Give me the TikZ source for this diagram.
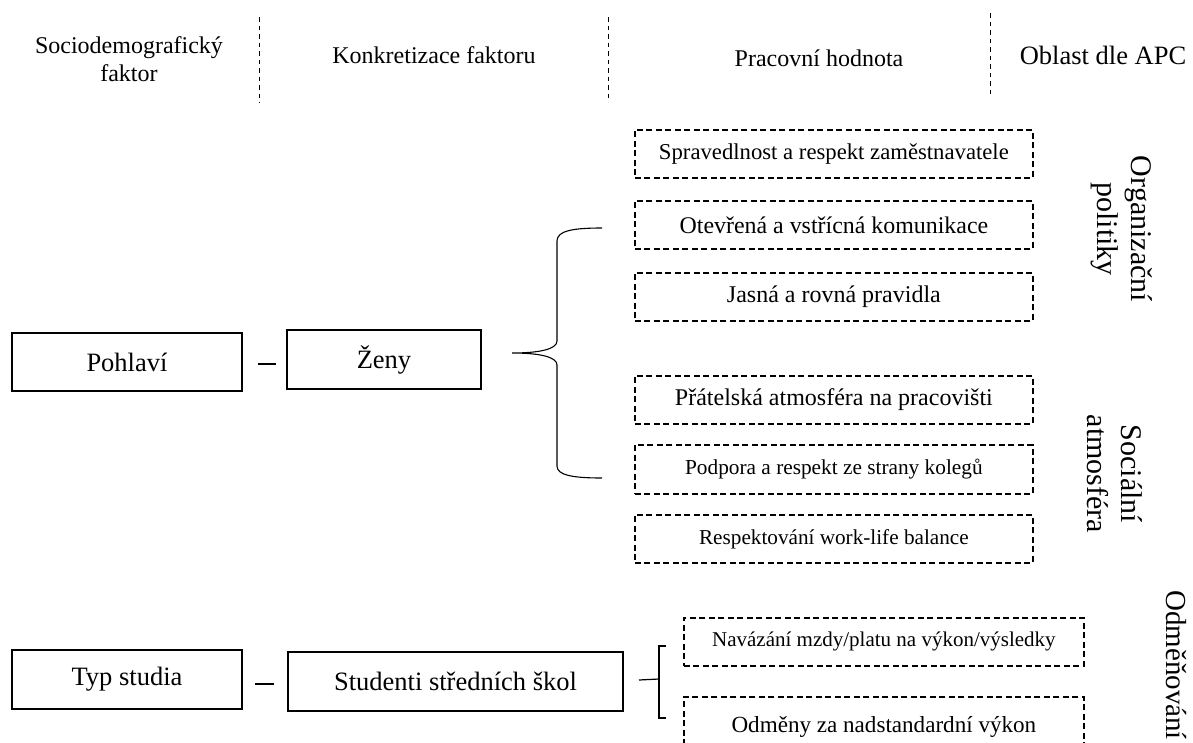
\documentclass[tikz,border=0pt]{standalone}
\usepackage{fontspec}
\setmainfont{Liberation Serif}
\usetikzlibrary{calc}
\tikzset{
  solidbox/.style={draw, line width=2pt, inner sep=0pt, anchor=north west},
  dashbox/.style={draw, line width=1.8pt, dash pattern=on 6pt off 3.5pt, inner sep=0pt, anchor=north west},
  sepline/.style={line width=1pt, dash pattern=on 4.5pt off 4pt},
  conn/.style={line width=1.2pt},
  hdr/.style={align=center, font=\fontsize{24}{28}\selectfont},
  rotlabel/.style={rotate=-90, align=center, font=\fontsize{30}{34}\selectfont, inner sep=0pt}
}
\newcommand{\fs}[1]{\fontsize{#1}{#1}\selectfont}
\begin{document}
\begin{tikzpicture}[x=1pt,y=-1pt]
\useasboundingbox (0,0) rectangle (1193,742);

% header
\node[hdr] (h1) at (129,59) {Sociodemografický\\faktor};
\node[hdr] (h2) at (434,55) {Konkretizace faktoru};
\node[hdr] (h3) at (819,58) {Pracovní hodnota};
\node[hdr, font=\fontsize{26.5}{30}\selectfont] (h4) at (1103,55) {Oblast dle APC};
\coordinate (s1a) at (259,17); \coordinate (s1b) at (259,103);
\coordinate (s2a) at (608,17); \coordinate (s2b) at (608,102);
\coordinate (s3a) at (990,13); \coordinate (s3b) at (990,96);
\draw[sepline] (s1a) -- (s1b);
\draw[sepline] (s2a) -- (s2b);
\draw[sepline] (s3a) -- (s3b);

% left boxes
\node[solidbox, minimum width=230pt, minimum height=58pt] (poh) at (11,332) {\fs{26.5}Pohlaví};
\node[solidbox, minimum width=194pt, minimum height=59pt] (zen) at (286,329) {\fs{26.5}Ženy};
\node[solidbox, minimum width=230pt, minimum height=59pt] (typ) at (11,649) {\fs{26.5}Typ studia};
\node[solidbox, minimum width=335pt, minimum height=59pt] (stu) at (287,651) {\fs{26.5}Studenti středních škol};

\draw[conn] ($(poh.east)+(15,2)$) -- ($(zen.west)+(-10,4.5)$);
\draw[conn] ($(typ.east)+(12,4.5)$) -- ($(stu.west)+(-13,2.5)$);

% value boxes
\node[dashbox, minimum width=398pt, minimum height=48pt] (v1) at (634,129) {\fs{22.7}Spravedlnost a respekt zaměstnavatele};
\node[dashbox, minimum width=398pt, minimum height=48pt] (v2) at (634,200) {\fs{23.9}Otevřená a vstřícná komunikace};
\node[dashbox, minimum width=398pt, minimum height=48pt] (v3) at (634,272) {\fs{24}Jasná a rovná pravidla};
\node[dashbox, minimum width=398pt, minimum height=48pt] (v4) at (634,375) {\fs{24}Přátelská atmosféra na pracovišti};
\node[dashbox, minimum width=398pt, minimum height=49pt] (v5) at (634,444) {\fs{21.3}Podpora a respekt ze strany kolegů};
\node[dashbox, minimum width=398pt, minimum height=48pt] (v6) at (634,514) {\fs{21.2}Respektování work-life balance};
\node[dashbox, minimum width=400pt, minimum height=48pt] (v7) at (683,617) {\fs{21}Navázání mzdy/platu na výkon/výsledky};
\node[dashbox, minimum width=400pt, minimum height=60pt] (v8) at (683,696) {\fs{23.1}Odměny za nadstandardní výkon};

% brace
\coordinate (btop) at (602,228);
\coordinate (btip) at (512,353);
\coordinate (bbot) at (602,478);
\draw[line width=1.1pt] (btop) .. controls (572,228) and (557,231) .. (557,241)
  -- (557,341) .. controls (557,349) and (540,353) .. (btip)
  .. controls (540,353) and (557,357) .. (557,365)
  -- (557,466) .. controls (557,475) and (572,478) .. (bbot);

% bottom bracket
\coordinate (kt) at (666,646);
\coordinate (kb) at (666,718);
\draw[conn] (kt) -- (659,646) -- (659,718) -- (kb);
\draw[conn] ($(stu.east)+(15,-1.5)$) -- (659,679);

% rotated labels
\node[rotlabel] (l1) at (1122,229) {Organizační\\politiky};
\node[rotlabel] (l2) at (1115,474) {Sociální\\atmosféra};
\node[rotlabel, anchor=west, font=\fontsize{29}{33}\selectfont] (l3) at (1176,590) {Odměňování};
\end{tikzpicture}
\end{document}
